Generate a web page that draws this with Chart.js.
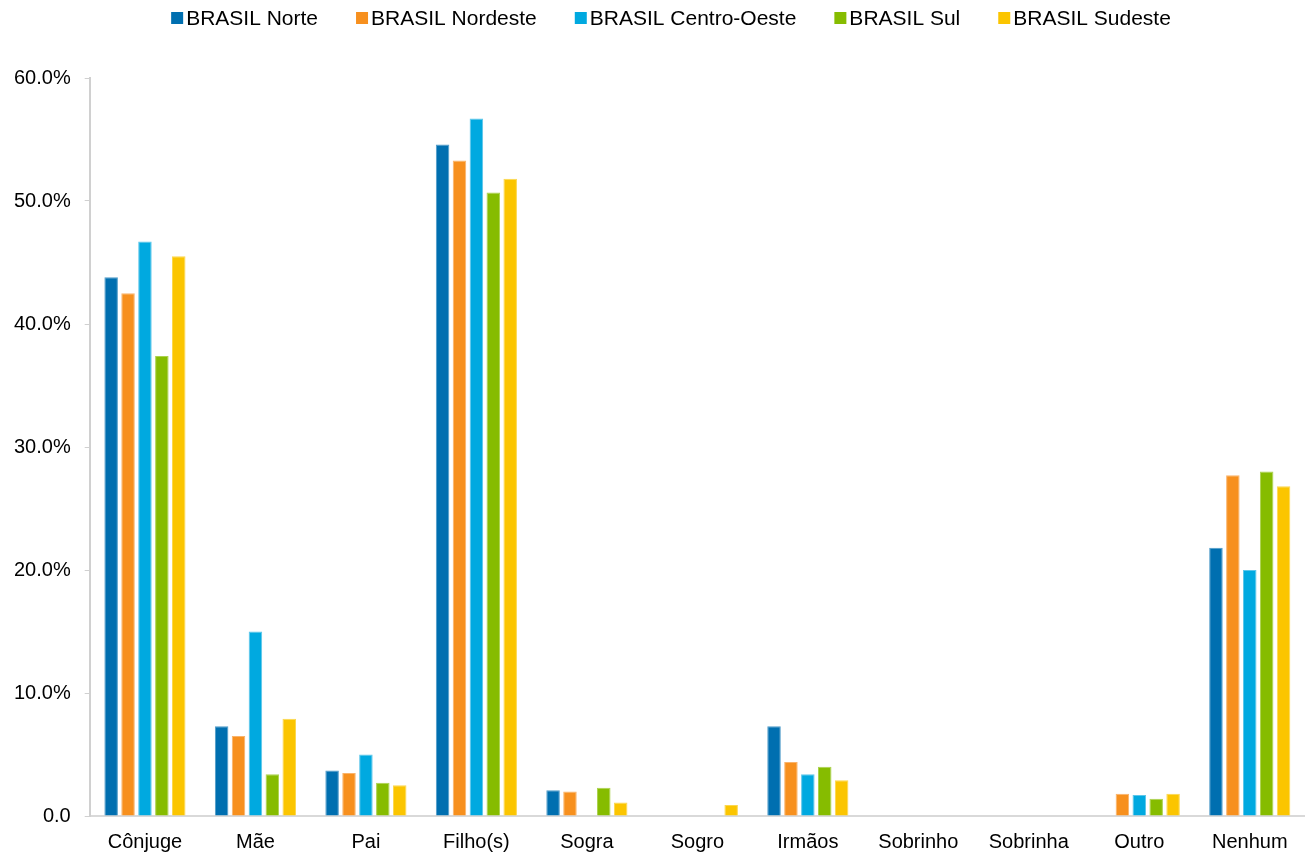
<!DOCTYPE html>
<html>
<head>
<meta charset="utf-8">
<script src="https://cdn.jsdelivr.net/npm/chart.js@4"></script>
<style>
  html, body { margin: 0; padding: 0; background: #fff; }
  #wrap { width: 1305px; height: 853px; }
</style>
</head>
<body>
<div id="wrap"><canvas id="c" width="1305" height="853"></canvas></div>
<script>
// Parentesco por região (%)
const categories = ['Cônjuge', 'Mãe', 'Pai', 'Filho(s)', 'Sogra', 'Sogro', 'Irmãos', 'Sobrinho', 'Sobrinha', 'Outro', 'Nenhum'];
const seriesNames = ['BRASIL Norte', 'BRASIL Nordeste', 'BRASIL Centro-Oeste', 'BRASIL Sul', 'BRASIL Sudeste'];
const norte       = [43.8, 7.3, 3.7, 54.6, 2.1, 0, 7.3, 0, 0, 0, 21.8];
const nordeste    = [42.5, 6.5, 3.5, 53.3, 2.0, 0, 4.4, 0, 0, 1.8, 27.7];
const centroOeste = [46.7, 15.0, 5.0, 56.7, 0, 0, 3.4, 0, 0, 1.7, 20.0];
const sul         = [37.4, 3.4, 2.7, 50.7, 2.3, 0, 4.0, 0, 0, 1.4, 28.0];
const sudeste     = [45.5, 7.9, 2.5, 51.8, 1.1, 0.9, 2.9, 0, 0, 1.8, 26.8];
const yTicks = [0, 10, 20, 30, 40, 50, 60];

const colors = ['#006fb0', '#f7901e', '#00a9e0', '#86bc00', '#fbc500'];
const borders = ['#4d9ac8', '#fab36a', '#5cc6ea', '#abd24d', '#fcd74d'];
const values = [norte, nordeste, centroOeste, sul, sudeste];

const FONT = '"Liberation Sans", Arial, sans-serif';
Chart.defaults.font.family = FONT;
Chart.defaults.color = '#000';

// Single-row legend across the top: small square swatch, tight gap, wide spacing between items
const topLegend = {
  id: 'topLegend',
  afterDraw(chart) {
    const ctx = chart.ctx;
    const box = 12, gapText = 3, gapItem = 38, cy = 18, centerX = 671;
    ctx.save();
    ctx.font = '21px ' + FONT;
    ctx.textBaseline = 'middle';
    const items = chart.data.datasets.map(ds => ({
      text: ds.label,
      color: ds.backgroundColor,
      w: ctx.measureText(ds.label).width
    }));
    const total = items.reduce((s, it) => s + box + gapText + it.w, 0) + gapItem * (items.length - 1);
    let x = centerX - total / 2;
    items.forEach(it => {
      ctx.fillStyle = it.color;
      ctx.fillRect(x, cy - box / 2, box, box);
      x += box + gapText;
      ctx.fillStyle = '#000';
      ctx.textAlign = 'left';
      ctx.fillText(it.text, x, cy + 1);
      x += it.w + gapItem;
    });
    ctx.restore();
  }
};

new Chart(document.getElementById('c'), {
  type: 'bar',
  data: {
    labels: categories,
    datasets: seriesNames.map((name, i) => ({
      label: name,
      data: values[i],
      backgroundColor: colors[i],
      borderColor: borders[i],
      borderWidth: 1,
      categoryPercentage: 0.765,
      barPercentage: 0.8
    }))
  },
  options: {
    responsive: false,
    animation: false,
    layout: { padding: { left: 0, right: 0, top: 78, bottom: -15 } },
    plugins: {
      legend: { display: false },
      tooltip: { enabled: false }
    },
    scales: {
      x: {
        grid: { display: false, drawTicks: false },
        border: { display: true, color: '#d9d9d9', width: 2 },
        ticks: { font: { size: 20 }, color: '#000', padding: 14, maxRotation: 0, autoSkip: false }
      },
      y: {
        min: 0,
        max: 60,
        afterBuildTicks: axis => { axis.ticks = yTicks.map(v => ({ value: v })); },
        grid: { display: true, drawOnChartArea: false, drawTicks: true, tickLength: 5, color: '#d0d0d0' },
        border: { display: true, color: '#d0d0d0', width: 2 },
        ticks: {
          font: { size: 20 },
          color: '#000',
          padding: 14,
          callback: v => v === 0 ? '0.0' : v.toFixed(1) + '%'
        }
      }
    }
  },
  plugins: [topLegend]
});
</script>
</body>
</html>
